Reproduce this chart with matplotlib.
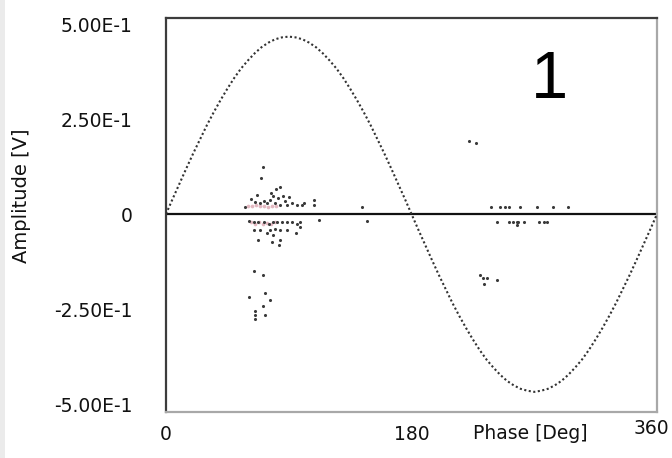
import matplotlib
matplotlib.use("Agg")
import matplotlib.pyplot as plt
from matplotlib.patches import Rectangle
from matplotlib.transforms import ScaledTranslation

# ---- data ----
sine_phase = list(range(0, 361, 5))
sine_pos = [0.0, 0.041, 0.081, 0.121, 0.160, 0.197, 0.234, 0.268, 0.300, 0.330,
            0.358, 0.383, 0.404, 0.423, 0.439, 0.451, 0.460, 0.465, 0.467,
            0.465, 0.460, 0.451, 0.439, 0.423, 0.404, 0.383, 0.358, 0.330,
            0.300, 0.268, 0.234, 0.197, 0.160, 0.121, 0.081, 0.041]
sine_neg = [0.0, -0.041, -0.081, -0.121, -0.160, -0.197, -0.234, -0.268, -0.300,
            -0.330, -0.358, -0.383, -0.404, -0.423, -0.439, -0.451, -0.460,
            -0.465, -0.468, -0.465, -0.460, -0.451, -0.439, -0.423, -0.404,
            -0.383, -0.358, -0.330, -0.300, -0.268, -0.234, -0.197, -0.160,
            -0.121, -0.081, -0.041, 0.0]
sine_amp = sine_pos + sine_neg

pd_phase = [71.0, 69.6, 80.8, 83.8, 85.7, 78.8,
            58.0, 65.4, 69.1, 74.0, 76.4, 80.1, 83.8, 88.7, 92.3, 96.0, 99.7,
            101.4, 108.2, 108.2, 62.0, 67.0, 72.0, 77.0, 82.0, 87.0, 90.0,
            60.5, 64.2, 67.8, 71.5, 75.2, 78.8, 81.3, 85.0, 88.7, 92.3, 96.0,
            97.9, 98.5, 111.9,
            64.2, 69.1, 74.0, 76.4, 80.1, 83.8, 88.7, 95.6, 67.8, 77.6, 82.5,
            83.8, 78.8,
            64.7, 71.0, 61.2, 72.7, 75.9, 71.0, 64.9, 64.9, 64.9, 72.7,
            143.8, 147.4,
            222.1, 227.0,
            238.0, 244.9, 248.3, 251.5, 259.6, 272.3, 283.4, 294.9,
            242.9, 251.5, 254.7, 257.6, 258.1, 262.5, 273.5, 277.2, 279.7, 257.0,
            230.2, 232.7, 235.1, 233.1, 242.9]
pd_amp = [0.123, 0.094, 0.065, 0.070, 0.047, 0.047,
          0.019, 0.032, 0.028, 0.028, 0.037, 0.028, 0.024, 0.024, 0.028, 0.024,
          0.024, 0.028, 0.037, 0.024, 0.040, 0.050, 0.035, 0.055, 0.042, 0.035,
          0.045,
          -0.018, -0.020, -0.020, -0.020, -0.025, -0.020, -0.020, -0.020, -0.020,
          -0.020, -0.025, -0.020, -0.033, -0.016,
          -0.042, -0.042, -0.051, -0.042, -0.040, -0.042, -0.041, -0.051, -0.068,
          -0.073, -0.082, -0.068, -0.055,
          -0.149, -0.161, -0.218, -0.209, -0.226, -0.242, -0.254, -0.266, -0.277,
          -0.266,
          0.019, -0.018,
          0.193, 0.186,
          0.018, 0.018, 0.018, 0.018, 0.018, 0.018, 0.018, 0.018,
          -0.020, -0.020, -0.020, -0.020, -0.020, -0.020, -0.020, -0.020, -0.020,
          -0.028,
          -0.161, -0.167, -0.167, -0.184, -0.174]

pink_phase = [60, 63, 66, 69, 72, 75, 78, 81, 62, 65, 68, 71, 74, 77, 80]
pink_amp = [0.022, 0.020, 0.024, 0.020, 0.022, 0.019, 0.021, 0.020,
            -0.022, -0.025, -0.021, -0.027, -0.023, -0.026, -0.022]

x_ticks = [0, 180, 360]
x_tick_labels = ["0", "180", "360"]
y_ticks = [0.5, 0.25, 0.0, -0.25, -0.5]
y_tick_labels = ["5.00E-1", "2.50E-1", "0", "-2.50E-1", "-5.00E-1"]

# ---- figure ----
fig = plt.figure(figsize=(6.72, 4.58), dpi=100)
fig.patch.set_facecolor("white")
fig.add_artist(Rectangle((0, 0), 5 / 672, 1, transform=fig.transFigure,
                         facecolor="#ebebeb", edgecolor="none"))

ax = fig.add_axes([166 / 672, 46 / 458, 491 / 672, 394 / 458])
ax.set_xlim(0, 360)
ax.set_ylim(-0.521, 0.516)

ax.axhline(0, color="#111111", linewidth=1.6, zorder=2)
ax.plot(sine_phase, sine_amp, color="#333333", linewidth=1.5,
        linestyle=(0, (1.0, 1.2)), zorder=3)
ax.scatter(pink_phase, pink_amp, s=7, color="#d08a98", alpha=0.6,
           linewidths=0, zorder=3)
ax.scatter(pd_phase, pd_amp, s=5, color="#3a3a3a", linewidths=0, zorder=4)

ax.set_xticks(x_ticks)
ax.set_xticklabels(x_tick_labels)
ax.set_yticks(y_ticks)
ax.set_yticklabels(y_tick_labels)
ax.tick_params(axis="both", length=0, labelsize=13.5, colors="#111111")
ax.tick_params(axis="y", pad=24)
ax.tick_params(axis="x", pad=9)

# the last x label sits a little left and higher in the reference
last = ax.get_xticklabels()[-1]
last.set_transform(last.get_transform() +
                   ScaledTranslation(-6 / 100, 5 / 100, fig.dpi_scale_trans))

ax.set_xlabel("Phase [Deg]", fontsize=13.5, color="#111111")
ax.xaxis.set_label_coords(0.742, -0.03)
ax.set_ylabel("Amplitude [V]", fontsize=14, color="#111111")
ax.yaxis.set_label_coords(-0.275, 0.55)

for side in ("left", "top"):
    ax.spines[side].set_color("#3c3c3c")
    ax.spines[side].set_linewidth(1.6)
for side in ("right", "bottom"):
    ax.spines[side].set_color("#a8a8a8")
    ax.spines[side].set_linewidth(1.6)

ax.text(0.78, 0.84, "1", transform=ax.transAxes, fontsize=48,
        family="Liberation Sans", color="black", ha="center", va="center")

fig.savefig("out.png", dpi=100)
